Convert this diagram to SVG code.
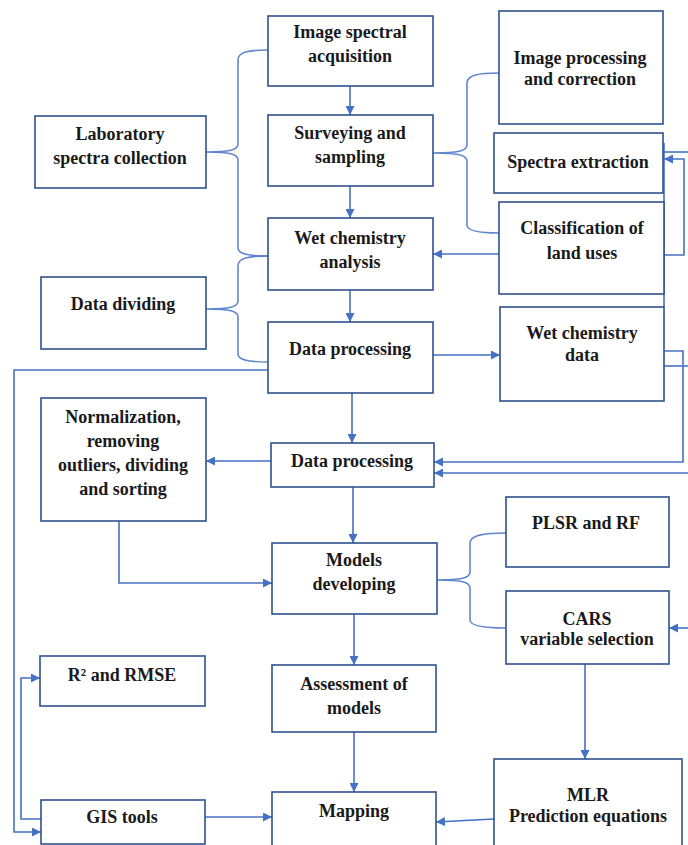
<svg xmlns="http://www.w3.org/2000/svg" width="688" height="845" viewBox="0 0 688 845">
<style>
.box{fill:#ffffff;stroke:#2F528F;stroke-width:1.6}
.t{font-family:"Liberation Serif","Times New Roman",serif;font-weight:bold;font-size:18px;fill:#1a1a1a;text-anchor:middle}
.c{fill:none;stroke:#4472C4;stroke-width:1.6}
.b{fill:none;stroke:#4472C4;stroke-width:1.6;opacity:0.85}
</style>
<defs>
<marker id="ah" viewBox="0 0 10 10" refX="10" refY="5" markerWidth="9" markerHeight="9" markerUnits="userSpaceOnUse" orient="auto">
<path d="M0,0 L10,5 L0,10 z" fill="#4472C4"/>
</marker>
</defs>
<rect width="688" height="845" fill="#ffffff"/>

<g id="connectors">
<path class="c" d="M350,86 L350,115" marker-end="url(#ah)"/>
<path class="c" d="M350,186 L350,218" marker-end="url(#ah)"/>
<path class="c" d="M350,290 L350,322" marker-end="url(#ah)"/>
<path class="c" d="M352,393 L352,443" marker-end="url(#ah)"/>
<path class="c" d="M353,487 L353,543" marker-end="url(#ah)"/>
<path class="c" d="M354,614 L354,665" marker-end="url(#ah)"/>
<path class="c" d="M354,732 L354,792" marker-end="url(#ah)"/>
<path class="c" d="M433,355 L500,355" marker-end="url(#ah)"/>
<path class="c" d="M499,254 L433,254" marker-end="url(#ah)"/>
<path class="c" d="M271,461 L206,461" marker-end="url(#ah)"/>
<path class="c" d="M119,521 L119,583 L272,583" marker-end="url(#ah)"/>
<path class="c" d="M205,817 L272,817" marker-end="url(#ah)"/>
<path class="c" d="M494,819 L436,822" marker-end="url(#ah)"/>
<path class="c" d="M585,664 L585,759" marker-end="url(#ah)"/>
<path class="c" d="M688,628 L669,628" marker-end="url(#ah)"/>
<path class="c" d="M270,370 L14,370 L14,832 L41,832" marker-end="url(#ah)"/>
<path class="c" d="M41,819 L21,819 L21,678 L40,678" marker-end="url(#ah)"/>
<path class="c" d="M664,143 L664,307"/>
<path class="c" d="M664,152 L688,152"/>
<path class="c" d="M664,255 L684,255 L684,159 L664,159" marker-end="url(#ah)"/>
<path class="c" d="M664,351 L683,351 L683,462 L434,462" marker-end="url(#ah)"/>
<path class="c" d="M664,366 L688,366"/>
<path class="c" d="M688,473 L434,473" marker-end="url(#ah)"/>
<path class="b" d="M268,50 C248,50 238,52 238,60 L238,144 C238,150 230,152 206,152 C230,152 238,154 238,160 L238,248 C238,254 248,256 268,256"/>
<path class="b" d="M268,256 C248,256 238,258 238,266 L238,301 C238,307 230,309 206,309 C230,309 238,311 238,317 L238,354 C238,360 248,362 268,362"/>
<path class="b" d="M499,73 C479,73 467,75 467,83 L467,145 C467,151 458,153 433,153 C458,153 467,155 467,161 L467,225 C467,231 479,233 499,233"/>
<path class="b" d="M506,533 C484,533 470,535 470,543 L470,572 C470,578 462,580 437,580 C462,580 470,582 470,588 L470,620 C470,626 484,628 506,628"/>
</g>

<g id="n-image-spectral"><rect class="box" x="268" y="16" width="165" height="70"/><text class="t" x="350" y="38">Image spectral</text><text class="t" x="350" y="62">acquisition</text></g>
<g id="n-surveying"><rect class="box" x="268" y="115" width="165" height="71"/><text class="t" x="350" y="139">Surveying and</text><text class="t" x="350" y="163">sampling</text></g>
<g id="n-wet-chem-analysis"><rect class="box" x="268" y="218" width="165" height="72"/><text class="t" x="350" y="244">Wet chemistry</text><text class="t" x="350" y="268">analysis</text></g>
<g id="n-data-processing-1"><rect class="box" x="268" y="322" width="165" height="71"/><text class="t" x="350" y="355">Data processing</text></g>
<g id="n-data-processing-2"><rect class="box" x="271" y="443" width="163" height="44"/><text class="t" x="352" y="467">Data processing</text></g>
<g id="n-models"><rect class="box" x="272" y="543" width="165" height="71"/><text class="t" x="354" y="566">Models</text><text class="t" x="354" y="590">developing</text></g>
<g id="n-assessment"><rect class="box" x="272" y="665" width="164" height="67"/><text class="t" x="354" y="690">Assessment of</text><text class="t" x="354" y="714">models</text></g>
<g id="n-mapping"><rect class="box" x="272" y="792" width="164" height="60"/><text class="t" x="354" y="817">Mapping</text></g>

<g id="n-lab-spectra"><rect class="box" x="35" y="116" width="171" height="72"/><text class="t" x="120" y="140">Laboratory</text><text class="t" x="120" y="164">spectra collection</text></g>
<g id="n-data-dividing"><rect class="box" x="41" y="277" width="165" height="72"/><text class="t" x="123" y="310">Data dividing</text></g>
<g id="n-normalization"><rect class="box" x="41" y="398" width="165" height="123"/><text class="t" x="123" y="423">Normalization,</text><text class="t" x="123" y="447">removing</text><text class="t" x="123" y="471">outliers, dividing</text><text class="t" x="123" y="495">and sorting</text></g>
<g id="n-r2-rmse"><rect class="box" x="40" y="656" width="165" height="50"/><text class="t" x="122" y="681">R² and RMSE</text></g>
<g id="n-gis"><rect class="box" x="41" y="800" width="164" height="44"/><text class="t" x="122" y="823">GIS tools</text></g>

<g id="n-image-processing"><rect class="box" x="499" y="11" width="164" height="113"/><text class="t" x="580" y="64">Image processing</text><text class="t" x="580" y="85">and correction</text></g>
<g id="n-spectra-extraction"><rect class="box" x="494" y="133" width="169" height="60"/><text class="t" x="578" y="168">Spectra extraction</text></g>
<g id="n-classification"><rect class="box" x="499" y="202" width="165" height="92"/><text class="t" x="582" y="234">Classification of</text><text class="t" x="582" y="259">land uses</text></g>
<g id="n-wet-chem-data"><rect class="box" x="500" y="307" width="164" height="94"/><text class="t" x="582" y="339">Wet chemistry</text><text class="t" x="582" y="361">data</text></g>
<g id="n-plsr-rf"><rect class="box" x="506" y="497" width="163" height="70"/><text class="t" x="586" y="529">PLSR and RF</text></g>
<g id="n-cars"><rect class="box" x="506" y="591" width="163" height="73"/><text class="t" x="587" y="625">CARS</text><text class="t" x="587" y="645">variable selection</text></g>
<g id="n-mlr"><rect class="box" x="494" y="759" width="188" height="95"/><text class="t" x="588" y="801">MLR</text><text class="t" x="588" y="822">Prediction equations</text></g>
</svg>
